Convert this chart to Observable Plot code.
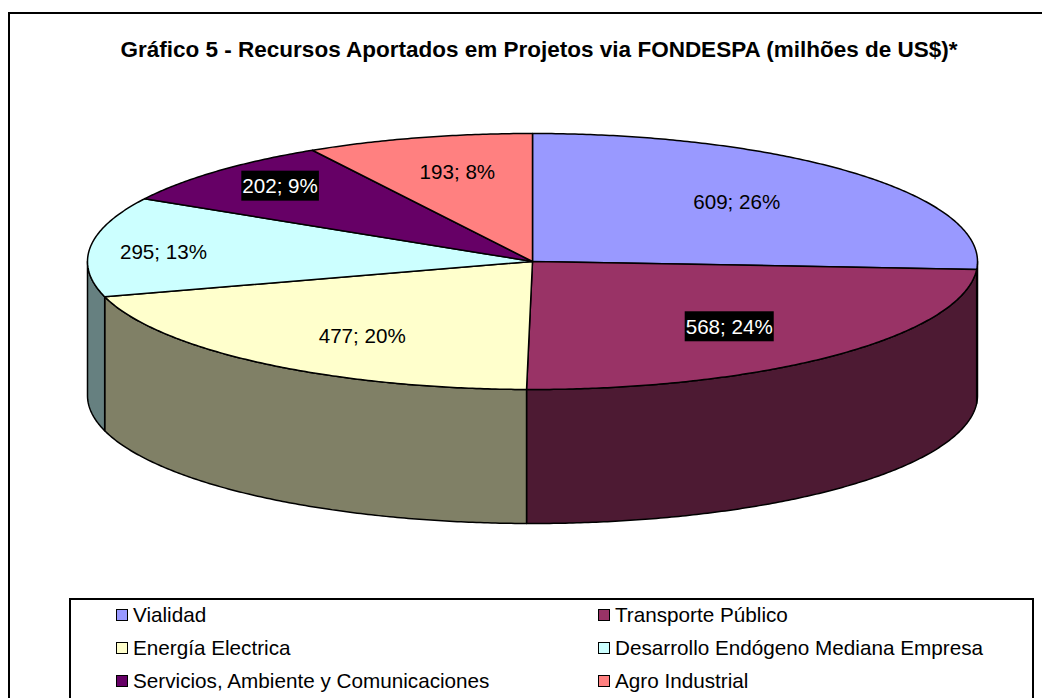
<!DOCTYPE html>
<html>
<head>
<meta charset="utf-8">
<script src="https://cdn.jsdelivr.net/npm/d3@7"></script>
<script src="https://cdn.jsdelivr.net/npm/@observablehq/plot@0.6"></script>
<style>
  body { margin: 0; background: #fff; font-family: "Liberation Sans", Arial, sans-serif; }
  #page { position: relative; width: 1042px; height: 698px; overflow: hidden; background: #fff; }
  #frame { position: absolute; left: 8px; top: 12px; width: 1100px; height: 800px; border-left: 2px solid #000; border-top: 2px solid #000; }
  #chart { position: absolute; left: 0; top: 0; }
  #title { position: absolute; left: 0; top: 39px; width: 1078px; text-align: center; font-weight: bold; font-size: 22.5px; line-height: 22px; color: #000; white-space: nowrap; }
  #legend { position: absolute; left: 69px; top: 598px; width: 961px; height: 130px; border: 2px solid #000; background: #fff; }
  .item { position: absolute; display: flex; align-items: center; height: 24px; font-size: 20.7px; line-height: 24px; white-space: nowrap; color: #000; }
  .sw { width: 10px; height: 10px; border: 1.5px solid #000; margin-right: 5px; }
</style>
</head>
<body>
<div id="page">
  <div id="frame"></div>
  <div id="chart"></div>
  <div id="title"></div>
  <div id="legend"></div>
</div>
<script>
// ---- data ----
const title = "Gráfico 5 - Recursos Aportados em Projetos via FONDESPA (milhões de US$)*";
const categories = [
  "Vialidad",
  "Transporte Público",
  "Energía Electrica",
  "Desarrollo Endógeno Mediana Empresa",
  "Servicios, Ambiente y Comunicaciones",
  "Agro Industrial"
];
const values = [609, 568, 477, 295, 202, 193];

// ---- styles ----
const colors = ["#9999FF", "#993366", "#FFFFCC", "#CCFFFF", "#660066", "#FF8080"];
const darkLabel = [false, true, false, false, true, false];
// label placement as fraction of radius (x, y) along each slice's mid-angle
const labelFrac = [[0.63, 0.67], [0.65, 0.70], [0.63, 0.74], [0.835, 0.6], [0.80, 0.83], [0.66, 0.72]];

const W = 1042, H = 698;
const cx = 532, cy = 261, rx = 445, ry = 128, depthPx = 134;
const depth = depthPx / ry;
const FONT = "Liberation Sans, Arial, sans-serif";

document.getElementById("title").textContent = title;

const total = d3.sum(values);
const arcs = d3.pie().sort(null).value(d => d)(values);
const shade = c => { const r = d3.rgb(c); return d3.rgb(r.r * 0.5, r.g * 0.5, r.b * 0.5).formatHex(); };
const pt = (a, dz) => ({x: Math.sin(a), y: -Math.cos(a) + dz});
function arcPts(a0, a1, dz) {
  const n = Math.max(2, Math.ceil((a1 - a0) / (Math.PI / 360)));
  return d3.range(n + 1).map(i => pt(a0 + (a1 - a0) * i / n, dz));
}

const tops = [], walls = [], labels = [];
arcs.forEach((a, i) => {
  [{x: 0, y: 0}, ...arcPts(a.startAngle, a.endAngle, 0)]
    .forEach(p => tops.push({...p, k: i, fill: colors[i]}));
  const w0 = Math.max(a.startAngle, Math.PI / 2), w1 = Math.min(a.endAngle, 3 * Math.PI / 2);
  if (w1 > w0) {
    [...arcPts(w0, w1, 0), ...arcPts(w0, w1, depth).reverse()]
      .forEach(p => walls.push({...p, k: i, fill: shade(colors[i])}));
  }
  const mid = (a.startAngle + a.endAngle) / 2;
  const [fx, fy] = labelFrac[i];
  labels.push({
    x: Math.sin(mid) * fx,
    y: -Math.cos(mid) * fy,
    text: `${values[i]}; ${Math.round(values[i] / total * 100)}%`,
    dark: darkLabel[i]
  });
});

const plot = Plot.plot({
  width: W, height: H, margin: 0,
  style: {background: "transparent", fontFamily: FONT},
  x: {domain: [-cx / rx, (W - cx) / rx], range: [0, W], axis: null},
  y: {domain: [-cy / ry, (H - cy) / ry], range: [0, H], axis: null},
  marks: [
    Plot.line(walls, {x: "x", y: "y", z: "k", fill: "fill", stroke: "#000", strokeWidth: 1.5, curve: "linear-closed", strokeLinejoin: "round"}),
    Plot.line(tops, {x: "x", y: "y", z: "k", fill: "fill", stroke: "#000", strokeWidth: 1.5, curve: "linear-closed", strokeLinejoin: "round"}),
    Plot.text(labels.filter(d => !d.dark), {x: "x", y: "y", text: "text", fill: "#000", fontSize: 20.6, fontFamily: FONT}),
    Plot.text(labels.filter(d => d.dark), {x: "x", y: "y", text: "text", fill: "#fff", fontSize: 20.6, fontFamily: FONT, className: "dark-lbl"})
  ]
});
document.getElementById("chart").appendChild(plot);

// black boxes behind the dark labels
plot.querySelectorAll(".dark-lbl text").forEach(t => {
  const b = t.getBBox();
  const r = document.createElementNS("http://www.w3.org/2000/svg", "rect");
  r.setAttribute("x", b.x - 1);
  r.setAttribute("y", b.y + b.height / 2 - 15);
  r.setAttribute("width", b.width + 2);
  r.setAttribute("height", 30);
  r.setAttribute("fill", "#000");
  r.setAttribute("transform", t.getAttribute("transform") || "");
  t.parentNode.insertBefore(r, t);
});

// legend
const legend = document.getElementById("legend");
const colX = [117 - 71, 599 - 71], rowY = [615 - 600, 648 - 600, 681 - 600];
categories.forEach((c, i) => {
  const it = document.createElement("div");
  it.className = "item";
  it.style.left = (colX[i % 2] - 1) + "px";
  it.style.top = (rowY[Math.floor(i / 2)] - 12) + "px";
  const sw = document.createElement("div");
  sw.className = "sw";
  sw.style.background = colors[i];
  const tx = document.createElement("span");
  tx.textContent = c;
  it.appendChild(sw); it.appendChild(tx);
  legend.appendChild(it);
});
</script>
</body>
</html>
